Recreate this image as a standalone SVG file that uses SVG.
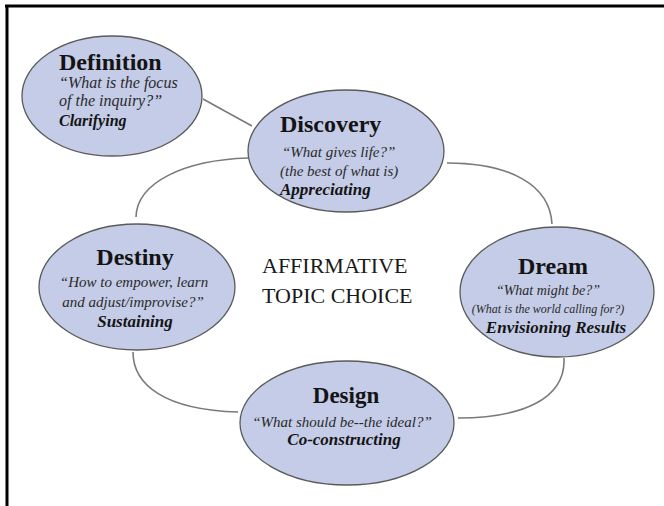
<svg xmlns="http://www.w3.org/2000/svg" width="664" height="506" viewBox="0 0 664 506">
  <style>
    .node { fill: #c4cce7; stroke: #5a5a5a; stroke-width: 1.3; }
    .link { fill: none; stroke: #7a7a7a; stroke-width: 1.6; }
    text { font-family: "Liberation Serif", "Times New Roman", serif; fill: #141414; }
    .title { font-size: 24px; font-weight: bold; }
    .q { font-size: 15px; font-style: italic; fill: #2a2a2a; }
    .act { font-size: 17px; font-weight: bold; font-style: italic; }
    .center { font-size: 22px; fill: #1a1a1a; }
  </style>

  <rect width="664" height="506" fill="#ffffff"/>
  <!-- frame: top and left rules -->
  <path d="M5,6 H664 M7,5 V506" fill="none" stroke="#000" stroke-width="3"/>

  <g id="connectors">
    <path class="link" d="M203,99 L252,126"/>
    <path class="link" d="M248,158 C185,160 137,182 136,217"/>
    <path class="link" d="M447,163 C510,163 550,185 552,224"/>
    <path class="link" d="M564,358 C566,400 520,418 458,418"/>
    <path class="link" d="M133,352 C133,385 165,410 238,412"/>
  </g>

  <g id="definition">
    <ellipse class="node" cx="112" cy="96" rx="90" ry="60"/>
    <text class="title" x="59" y="70">Definition</text>
    <text class="q" x="59" y="88" style="font-size:16px">“What is the focus</text>
    <text class="q" x="59" y="106" style="font-size:16px">of the inquiry?”</text>
    <text class="act" x="59" y="126" style="font-size:16px">Clarifying</text>
  </g>

  <g id="discovery">
    <ellipse class="node" cx="346" cy="151" rx="98" ry="61"/>
    <text class="title" x="280" y="132">Discovery</text>
    <text class="q" x="282" y="157">“What gives life?”</text>
    <text class="q" x="280" y="176">(the best of what is)</text>
    <text class="act" x="280" y="195">Appreciating</text>
  </g>

  <g id="dream">
    <ellipse class="node" cx="557" cy="292" rx="97" ry="65"/>
    <text class="title" x="553" y="274" text-anchor="middle">Dream</text>
    <text class="q" x="548" y="295" text-anchor="middle" style="font-size:14px">“What might be?”</text>
    <text class="q" x="548" y="313" text-anchor="middle" style="font-size:12px">(What is the world calling for?)</text>
    <text class="act" x="556" y="333" text-anchor="middle">Envisioning Results</text>
  </g>

  <g id="destiny">
    <ellipse class="node" cx="137" cy="287" rx="98" ry="63"/>
    <text class="title" x="135" y="265" text-anchor="middle">Destiny</text>
    <text class="q" x="134" y="287" text-anchor="middle">“How to empower, learn</text>
    <text class="q" x="133" y="307" text-anchor="middle">and adjust/improvise?”</text>
    <text class="act" x="135" y="327" text-anchor="middle">Sustaining</text>
  </g>

  <g id="design">
    <ellipse class="node" cx="347" cy="423" rx="107" ry="62"/>
    <text class="title" x="346" y="403" text-anchor="middle" style="font-size:23px">Design</text>
    <text class="q" x="342" y="427" text-anchor="middle">“What should be--the ideal?”</text>
    <text class="act" x="344" y="445" text-anchor="middle">Co-constructing</text>
  </g>

  <g id="topic">
    <text class="center" x="262" y="273">AFFIRMATIVE</text>
    <text class="center" x="262" y="303">TOPIC CHOICE</text>
  </g>
</svg>
